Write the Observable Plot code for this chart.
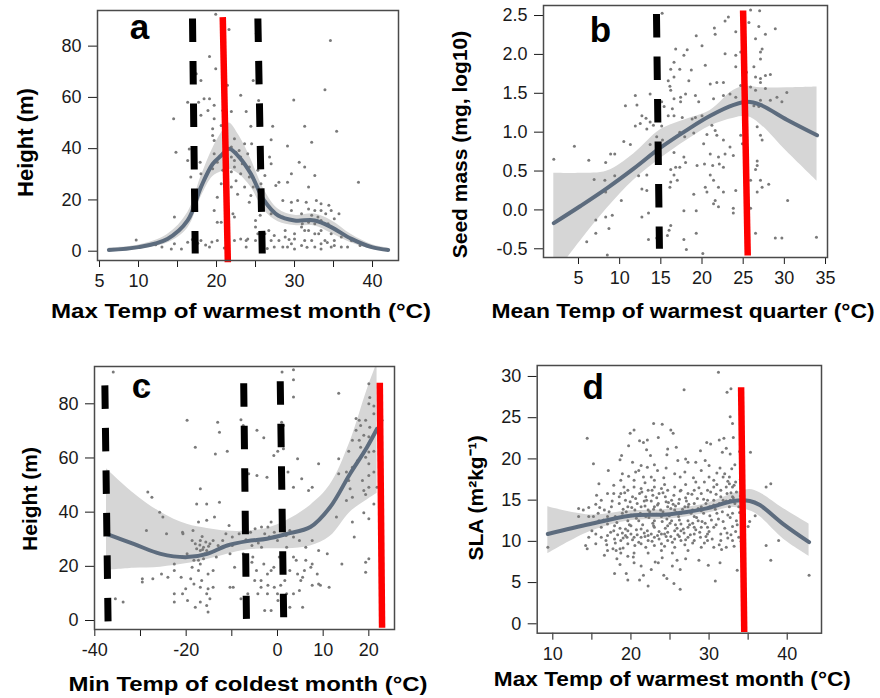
<!DOCTYPE html>
<html>
<head>
<meta charset="utf-8">
<script src="https://cdn.jsdelivr.net/npm/d3@7"></script>
<script src="https://cdn.jsdelivr.net/npm/@observablehq/plot@0.6"></script>
<style>
  html, body { margin: 0; padding: 0; background: #fff; }
  #wrap { position: relative; width: 880px; height: 698px; background: #fff; overflow: hidden; }
  #wrap > div { position: absolute; }
</style>
</head>
<body>
<div id="wrap"></div>
<script>
// ---------------- Panel a ----------------
const aXTitle = "Max Temp of warmest month (°C)";
const aYTitle = "Height (m)";
const aXTicks = [5, 10, 15, 20, 25, 30, 35, 40];
const aXLabelled = [5, 10, 20, 30, 40];
const aYTicks = [0, 20, 40, 60, 80];
const aPoints = [[19.9,92.4],[21.6,86.5],[25.1,84.8],[34.6,82.2],[19.1,76],[19.9,71.2],[17.4,69.2],[18.0,66.6],[24.7,66.6],[21.4,64.7],[33.9,63],[18.4,59.5],[19.1,59.5],[23.1,60.8],[25.4,58.8],[29.9,59],[16.3,58.1],[17.7,58.1],[19.7,56.9],[20.8,54.9],[21.9,54.5],[23.8,54.5],[18.9,54.9],[14.5,51.7],[18.0,53],[19.7,51.7],[19.5,47.8],[20.6,49],[24.4,48.7],[27.2,48.7],[31.3,48.7],[35.4,46.8],[19.5,45.1],[19.7,43.2],[22.3,43.9],[23.6,41.9],[24.5,41.9],[27.0,43.5],[29.1,41],[32.2,42.5],[14.8,38.6],[16.3,35.4],[17.9,34.7],[19.7,38],[20.1,34.7],[21.9,36.7],[22.3,32.8],[22.9,39.3],[24.0,38],[25.7,38],[26.8,36.7],[27.0,34.1],[30.6,34.7],[31.3,32.8],[29.6,30.2],[32.6,29.5],[38.2,26.9],[28.0,26.9],[29.1,26.9],[31.8,25],[16.7,28.9],[18.0,30.2],[19.5,32.2],[20.8,31.6],[21.9,31],[23.1,30.2],[24.2,28.9],[25.3,31.6],[26.2,29.5],[27.6,25.6],[24.4,21.7],[22.7,22.2],[24.2,19.1],[28.5,19.8],[29.6,19.1],[30.4,19.8],[31.5,19.1],[32.8,19.8],[33.4,18.5],[34.4,17.9],[31.8,16.5],[32.6,15.9],[33.4,15.9],[34.7,15.9],[29.6,15.9],[30.9,14.6],[32.2,14],[33.0,13.3],[34.0,14.6],[35.1,12.7],[35.7,14.6],[28.5,13.3],[27.0,14.6],[25.6,14],[25.0,12],[25.0,9.4],[26.7,8.1],[28.8,8.1],[30.0,6.8],[31.3,8.1],[32.6,6.8],[33.4,8.1],[34.7,6.8],[36.0,5.5],[37.3,4.2],[38.4,2.2],[36.8,1.6],[35.1,2.2],[33.4,2.9],[32.2,4.2],[30.9,2.2],[29.6,2.9],[28.5,1.6],[27.0,4.2],[25.7,2.9],[24.0,4.8],[23.1,4.8],[22.3,4.2],[20.1,4.2],[19.1,1.6],[18.0,4.2],[17.2,2.2],[16.3,3.5],[15.5,0.9],[14.2,0.9],[14.6,2.9],[13.0,1.6],[9.7,4.4],[14.6,13.3],[19.7,15.9],[20.1,11.3],[20.6,11.3],[22.1,14.6],[20.1,21],[25.3,6.8],[28.0,4.2],[29.1,1.6],[33.4,0.9],[34.7,1.6],[36.0,1.6],[22.3,13.3],[30.4,12],[31.0,10.7],[31.8,11.3],[32.6,10.7],[33.4,12],[34.3,10.7],[30.9,9.4],[31.8,8.1],[33.1,6.8],[30.0,4.8],[28.8,5.5],[27.4,6.1],[26.2,6.8],[25.0,4.2],[23.8,4.2],[23.8,1.6],[27.4,1.6],[30.0,0.9],[31.3,4.2],[32.6,1.6],[33.9,4.2],[35.1,4.2],[22.5,27.5],[23.6,25],[21.9,25],[20.6,26.3],[24.7,25],[25.7,26.3],[21.9,40.6],[22.5,38.6],[23.1,36.7],[23.3,34.1],[24.2,32.8],[22.3,35.4],[21.4,32.8],[17.2,34.1],[16.5,39.9],[12.2,2.5],[17.6,3.1],[18.6,2.4],[19.4,3.6],[16.9,4.6],[21.0,1.2],[26.5,1.1],[31.6,1.5],[29.3,4.6],[34.2,3.4]];
const aCurveX  = [6.2, 10.0, 13.7, 16.3, 18.0, 19.5, 20.6, 21.6, 22.9, 24.4, 26.1, 27.9, 30.0, 32.6, 34.7, 37.3, 39.9, 42.0];
const aCurveY  = [0.5, 1.6, 4.8, 12.0, 25.0, 34.0, 37.3, 40.0, 36.7, 30.2, 19.8, 13.9, 12.0, 12.0, 9.4, 4.8, 1.6, 0.5];
const aCurveHi = [1.2, 2.4, 6.5, 15.0, 29.0, 40.0, 46.0, 50.0, 45.0, 36.0, 24.0, 16.5, 14.0, 14.5, 12.0, 6.5, 2.6, 1.2];
const aCurveLo = [0.0, 0.8, 3.2, 9.0, 21.0, 29.0, 31.0, 32.0, 30.0, 25.0, 16.0, 11.5, 10.0, 9.8, 7.0, 3.2, 0.8, 0.0];
const aDashed = [{x1: 16.92, y1: 90.8, x2: 17.27, y2: -0.9}, {x1: 25.3, y1: 90.8, x2: 25.86, y2: -0.9}];
const aRed = [{x1: 20.8, y1: 91.3, x2: 21.45, y2: -4.3}];

// ---------------- Panel b ----------------
const bXTitle = "Mean Temp of warmest quarter (°C)";
const bYTitle = "Seed mass (mg, log10)";
const bXTicks = [5, 10, 15, 20, 25, 30, 35];
const bXLabelled = [5, 10, 15, 20, 25, 30, 35];
const bYTicks = [-0.5, 0, 0.5, 1, 1.5, 2, 2.5];
const bPoints = [[15.16,2.53],[25.9,2.57],[27.0,2.56],[23.2,2.48],[22.8,2.43],[24.9,2.46],[25.7,2.41],[26.9,2.36],[27.7,2.26],[28.9,2.33],[21.5,2.34],[21.6,2.26],[19.3,2.24],[24.1,2.29],[26.5,2.2],[16.8,2.07],[18.2,2.06],[20.0,2.11],[22.8,2.01],[24.1,1.99],[24.7,2.03],[27.1,2.03],[27.3,2.07],[27.1,1.94],[17.8,1.99],[16.6,1.9],[17.3,1.81],[16.2,1.81],[20.4,1.86],[18.7,1.8],[26.3,1.84],[24.1,1.84],[25.4,1.77],[26.5,1.71],[27.1,1.69],[27.7,1.73],[28.3,1.74],[18.4,1.66],[15.9,1.66],[16.6,1.71],[27.1,1.64],[21.0,1.62],[21.8,1.64],[22.6,1.64],[24.7,1.6],[25.9,1.58],[26.5,1.54],[27.7,1.56],[16.1,1.59],[16.2,1.54],[13.7,1.49],[11.9,1.47],[18.0,1.49],[19.2,1.47],[17.4,1.45],[16.6,1.43],[22.6,1.47],[23.4,1.49],[24.1,1.45],[30.3,1.51],[29.1,1.45],[27.1,1.41],[26.3,1.34],[26.9,1.33],[28.3,1.41],[29.7,1.39],[10.7,1.34],[12.1,1.35],[15.1,1.39],[15.4,1.33],[16.4,1.3],[17.4,1.39],[19.6,1.39],[21.4,1.43],[15.9,1.21],[16.6,1.21],[17.6,1.19],[19.2,1.19],[12.7,1.21],[13.2,1.18],[13.7,1.13],[12.5,1.11],[13.3,1.04],[14.1,1.09],[15.1,1.08],[11.9,1.08],[18.8,1.17],[20.0,1.21],[21.2,1.09],[21.6,1.02],[21.8,0.96],[20.6,0.97],[19.0,0.99],[17.3,1.0],[17.9,0.94],[14.5,0.94],[13.7,0.84],[15.2,0.9],[11.3,0.84],[10.5,0.88],[4.5,0.82],[26.7,1.07],[27.1,0.96],[27.3,0.9],[24.9,0.85],[22.6,0.9],[24.7,0.96],[23.4,0.81],[22.8,0.72],[23.8,0.7],[22.0,0.68],[21.0,0.72],[20.2,0.85],[16.6,0.74],[17.8,0.68],[18.0,0.61],[19.4,0.57],[20.3,0.59],[21.3,0.57],[22.1,0.59],[16.8,0.55],[17.3,0.55],[16.2,0.52],[22.6,0.55],[26.7,0.63],[26.7,0.57],[26.5,0.52],[6.25,0.64],[8.3,0.61],[2.0,0.65],[8.9,0.72],[9.4,0.72],[12.3,0.44],[13.3,0.45],[8.2,0.38],[9.4,0.44],[6.9,0.39],[16.6,0.45],[17.0,0.38],[16.2,0.36],[16.1,0.29],[21.0,0.45],[21.4,0.38],[20.4,0.29],[22.0,0.29],[20.6,0.23],[22.6,0.23],[25.9,0.38],[27.1,0.38],[27.3,0.29],[28.1,0.33],[26.7,0.23],[19.0,0.2],[21.6,0.12],[24.1,0.25],[12.7,0.27],[13.3,0.25],[10.2,0.12],[8.3,0.23],[21.4,0.08],[22.0,0.04],[23.8,0.02],[25.9,0.02],[17.8,-0.01],[19.3,-0.01],[13.5,-0.04],[12.7,-0.09],[8.3,-0.09],[7.1,-0.13],[9.1,-0.07],[23.8,-0.04],[16.2,-0.2],[16.0,-0.26],[15.8,-0.33],[8.7,-0.24],[7.1,-0.3],[6.0,-0.41],[13.5,-0.38],[14.5,-0.36],[17.8,-0.38],[18.1,-0.51],[19.3,-0.3],[26.5,-0.3],[28.9,-0.36],[29.7,-0.36],[33.9,-0.35],[30.4,0.12],[8.5,-0.58],[20.1,-0.56]];
const bCurveX  = [2.0, 5.24, 8.48, 11.7, 14.95, 18.2, 21.0, 23.85, 25.5, 27.1, 30.3, 33.97];
const bCurveY  = [-0.17, 0.05, 0.28, 0.53, 0.80, 1.03, 1.21, 1.35, 1.39, 1.35, 1.16, 0.96];
const bCurveHi = [0.47, 0.47, 0.50, 0.72, 1.03, 1.17, 1.28, 1.54, 1.59, 1.57, 1.57, 1.58];
const bCurveLo = [-0.85, -0.40, 0.02, 0.38, 0.66, 0.90, 1.08, 1.18, 1.20, 1.10, 0.75, 0.37];
const bDashed = [{x1: 14.47, y1: 2.52, x2: 14.83, y2: -0.5}];
const bRed = [{x1: 24.99, y1: 2.564, x2: 25.55, y2: -0.586}];

// ---------------- Panel c ----------------
const cXTitle = "Min Temp of coldest month (°C)";
const cYTitle = "Height (m)";
const cXTicks = [-40, -30, -20, -10, 0, 10, 20];
const cXLabelled = [-40, -20, 0, 10, 20];
const cYTicks = [0, 20, 40, 60, 80];
const cPoints = [[-35.97,91.7],[3.5,92.6],[1.0,91.7],[3.5,88.9],[-29.5,85.3],[3.5,82.5],[13.4,83.9],[-19.8,73.9],[-13.1,73.2],[-8.0,74.1],[-7.5,72],[-4.5,70.2],[-12.7,69.5],[-3.0,67.5],[0.9,73.2],[1.3,72],[-18.0,64],[-13.6,61.5],[-11.0,62.5],[-0.8,60.9],[0.05,62.5],[1.3,63.4],[4.4,59.7],[9.0,57.9],[13.4,59.7],[15.6,62.5],[20.0,62.2],[21.1,62.5],[-6.3,54.2],[-4.5,53.5],[-2.3,52.9],[0.6,54.2],[2.3,54.8],[3.5,49.2],[5.3,52.3],[6.8,48],[7.6,49.2],[13.4,54.2],[15.6,51.7],[15.9,48.6],[18.6,51.7],[20.0,53.5],[21.1,54.8],[18.9,48],[19.3,46.5],[20.0,49.2],[15.1,44.3],[16.4,45.5],[20.0,37.6],[18.9,39.8],[16.4,36.4],[12.9,38.2],[17.2,70.2],[17.9,73.9],[17.2,74.6],[18.2,72],[19.3,73.9],[18.9,68.4],[20.0,67.8],[20.2,71.3],[21.1,76.3],[20.0,80],[20.2,82.3],[21.1,79.2],[20.0,87.4],[22.9,73.9],[16.4,66.5],[17.9,66.5],[18.2,64],[20.0,65.2],[15.1,54.8],[20.0,22.8],[19.3,17.8],[19.3,21.5],[14.1,20.9],[10.9,24.6],[11.3,12.3],[9.4,13],[7.6,13],[7.3,19.7],[5.9,18.5],[5.5,16],[5.1,14.8],[4.4,17.2],[3.5,23.4],[3.5,9.9],[2.7,4.9],[5.5,4.9],[0.1,7.4],[-1.4,3.7],[-2.8,3.7],[-2.2,9.9],[-3.6,12.3],[-5.0,14.8],[-2.2,17.2],[-0.8,19.7],[-3.0,20.9],[-1.4,18.5],[-4.6,18.5],[-5.6,21.5],[-9.7,12.3],[-10.4,12.3],[-8.0,8],[-14.1,12.3],[-15.5,9.9],[-14.8,8],[-15.5,5.5],[-16.9,6.8],[-18.0,4.9],[-19.7,7.4],[-20.8,9.9],[-22.6,9.9],[-22.6,6.8],[-20.1,11.7],[-18.3,13.5],[-16.9,12.3],[-15.2,11.7],[-15.2,3.1],[-16.6,14.8],[-15.2,17.2],[-14.1,18.5],[-17.3,18.5],[-19.0,15.4],[-21.1,16],[-22.6,18.5],[-24.0,16],[-25.4,17.2],[-27.3,15.4],[-29.6,15.4],[-29.6,14.2],[-35.5,8],[-33.8,6.8],[-28.4,47.4],[-27.5,45.5],[-25.8,40],[-25.1,38.2],[-28.7,33.2],[-24.3,32],[-20.7,32],[-18.5,33.2],[-17.3,36.4],[-15.5,37],[-13.8,38.2],[-17.7,43],[-15.5,43],[-12.7,43.7],[-16.9,48.6],[-20.8,32.6],[-18.7,29.5],[-18.0,28.3],[-16.9,29.5],[-16.2,27],[-15.5,25.8],[-15.9,24.6],[-16.9,25.8],[-17.7,26.5],[-14.8,28.3],[-14.1,29.5],[-13.0,27.7],[-12.0,29.5],[-11.3,32],[-10.6,35.1],[-9.9,30.8],[-8.4,32],[-9.9,27.7],[-5.9,32.6],[-4.9,33.9],[-3.5,34.5],[-2.8,32],[-2.1,34.5],[-1.4,36.4],[-0.7,32.6],[0.0,29.5],[1.4,34.5],[2.7,33.2],[3.5,30.8],[4.8,29.5],[6.2,27],[7.6,29.5],[9.0,25.8],[2.0,27],[-3.5,27],[-5.6,27.7],[-10.4,24.6],[-13.4,23.4],[-19.8,24.6],[-18.3,22.2],[-17.3,22.2],[-16.2,22.8],[-16.9,20.9],[-22.6,20.9],[-20.8,23.4],[-18.7,19.7],[-9.4,19.7],[-7.5,24.6],[-5.4,23.4],[0.4,23.4],[1.3,19.7],[2.7,18.5],[4.1,22.2],[6.2,22.2],[7.6,20.9],[8.7,17.2],[9.0,13.5],[1.6,14.8],[0.7,13],[-0.7,12.3],[-2.1,13],[-3.6,14.8],[-4.3,9.9],[-6.5,9.9],[2.0,9.9],[0.0,9.9],[4.8,11.1],[16.4,56.6],[17.5,59],[16.8,30.8],[21.1,43],[21.8,49.2],[18.9,62.2],[19.3,60.3],[20.0,57.9],[-16.4,26.2],[-15.1,27.4],[-17.0,27.9],[-15.7,29.0],[-16.5,31.0],[-14.6,25.2],[-6.9,29.8],[-1.8,30.9],[-4.2,28.6],[1.9,31.4]];
const cCurveX  = [-37.44, -31.5, -25.6, -19.8, -15.4, -11.0, -6.65, -2.3, 2.1, 7.2, 11.5, 15.9, 19.6, 21.8];
const cCurveY  = [32.0, 28.3, 24.6, 23.4, 24.6, 27.7, 29.3, 30.2, 32.0, 34.5, 41.8, 54.2, 64.0, 70.8];
const cCurveHi = [56.0, 47.0, 40.0, 35.5, 34.0, 33.0, 33.0, 34.0, 37.0, 42.5, 50.0, 66.0, 85.0, 95.0];
const cCurveLo = [18.5, 19.3, 19.7, 21.0, 22.5, 24.5, 26.0, 26.5, 26.5, 27.5, 31.0, 40.0, 44.5, 47.0];
const cDashed = [{x1: -37.8, y1: 86.8, x2: -37.1, y2: -0.6}, {x1: -7.4, y1: 87.6, x2: -6.8, y2: 0.6}, {x1: 0.6, y1: 88.3, x2: 1.35, y2: 1.2}];
const cRed = [{x1: 22.4, y1: 87.8, x2: 22.9, y2: -2.7}];

// ---------------- Panel d ----------------
const dXTitle = "Max Temp of warmest month (°C)";
const dYTitle = "SLA (m²kg⁻¹)";
const dXTicks = [10, 15, 20, 25, 30, 35, 40];
const dXLabelled = [10, 20, 30, 40];
const dYTicks = [0, 5, 10, 15, 20, 25, 30];
const dPoints = [[31.2,30.5],[26.8,28.4],[32.3,28.1],[32.8,28.5],[14.4,22.5],[32.7,25.1],[33.0,24.3],[22.9,24.3],[24.0,24.2],[20.4,23.5],[19.9,23.1],[21.1,22.2],[21.6,22],[22.1,22.3],[23.5,22.6],[25.1,23.5],[25.4,23.1],[31.9,22.5],[31.3,22.3],[33.1,22.6],[29.7,22],[30.2,21.8],[35.3,20.8],[19.7,21.6],[24.7,21.2],[25.8,21.4],[27.0,20],[27.3,19.6],[28.3,19.6],[29.5,19.8],[18.8,20.4],[18.6,19.9],[15.2,19.4],[31.7,20.8],[32.7,20.6],[21.3,19.2],[22.1,19],[23.0,19.3],[23.4,18.6],[17.1,18.6],[18.9,18.2],[20.6,18.4],[21.6,17.8],[24.2,17.7],[26.3,17.8],[28.0,17.7],[29.4,17.2],[30.6,17.4],[31.8,17.8],[15.9,17],[17.8,16.8],[19.1,16.6],[37.9,17],[37.3,16.6],[32.6,17],[33.0,16.6],[32.3,15.8],[31.5,15.4],[30.6,15],[32.7,15],[33.0,15.4],[13.3,14],[14.6,14.1],[15.5,14.5],[15.9,12.5],[14.2,9.5],[14.4,9.1],[9.36,9.3],[15.5,9.7],[16.8,10.1],[17.7,9.1],[18.1,8.9],[18.6,9.1],[19.5,10.5],[20.4,10.5],[21.3,10.5],[22.2,10.7],[23.0,10.5],[23.9,10.9],[24.7,11.1],[25.6,11.3],[26.4,11.3],[27.3,11.7],[28.1,11.7],[17.9,6.1],[19.4,6.1],[19.6,5.3],[21.1,5.3],[21.6,5.9],[22.2,4.6],[23.1,7.5],[23.5,7.4],[24.2,5.9],[24.6,5.5],[25.5,4.9],[26.3,4.2],[25.9,7.7],[20.4,7.4],[19.6,8.2],[18.6,7.2],[22.2,8.6],[25.3,8.6],[26.3,6.6],[28.7,7.7],[30.8,5.2],[31.4,7.4],[31.6,9],[32.2,9.3],[37.3,9.5],[38.9,10.1],[37.9,7.7],[42.8,5.9],[33.6,6.5],[35.9,13.1],[35.2,12.4],[35.0,11.8],[33.0,11.8],[33.8,10.5],[33.0,10.1],[32.3,11],[31.8,12.4],[31.0,13.4],[30.1,14.2],[29.3,13.4],[28.6,12.5],[27.7,13.4],[26.9,14.2],[26.1,14.6],[25.2,15],[24.4,15.4],[23.6,15.8],[22.8,15.6],[21.9,15.4],[21.1,15.8],[20.2,15.4],[19.3,15],[18.5,14.6],[17.5,14.2],[16.6,13.8],[15.8,13.4],[15.2,13],[19.6,14.2],[20.5,13.8],[21.3,14.2],[22.2,13.8],[23.0,14.2],[23.8,13.8],[24.7,14.2],[25.6,13.8],[26.4,13.4],[27.3,14.2],[28.1,14.6],[29.0,14.2],[29.8,15],[18.9,13.4],[18.0,13],[19.6,12.5],[21.0,12.5],[21.9,13],[23.0,12.5],[23.9,13],[25.2,12.5],[26.1,13],[27.3,12.5],[28.1,13],[29.0,11.7],[29.8,11.7],[30.6,11.7],[31.5,10.1],[29.8,10.1],[28.9,10.5],[28.1,10.1],[27.3,10.5],[26.4,10.1],[25.6,10.3],[24.7,10.1],[23.9,9.7],[23.0,9.5],[22.2,10.1],[21.3,9.7],[20.5,9.5],[19.6,9.7],[18.7,10.1],[17.9,10.3],[17.0,10.7],[16.2,10.5],[17.0,12.1],[16.2,11.7],[17.0,13],[16.2,15],[17.8,15.8],[18.7,15.8],[19.6,16.2],[20.4,16.6],[21.3,16.4],[22.2,16.2],[23.0,16.6],[23.9,16.4],[24.7,16.2],[25.6,16.6],[26.4,16.2],[27.3,15.8],[28.1,16.2],[29.0,15.8],[29.8,16.2],[30.6,16.6],[31.5,16.2],[32.2,16.6],[32.6,14.2],[33.0,13.4],[33.5,12.5],[32.6,17.8],[32.0,18.2],[29.0,18.6],[25.6,18.2],[23.0,17.4],[20.4,17.4],[18.7,17.4],[17.0,15.8],[14.6,13],[13.9,13.8],[13.3,13],[15.0,11.3],[15.5,10.9],[14.6,10.5],[17.8,11.3],[19.6,11.3],[21.3,11.5],[23.0,11.7],[24.7,11.9],[26.4,12.1],[28.1,10.9],[29.8,10.9],[31.5,10.9],[30.6,9.3],[29.0,9.3],[27.3,8.9],[25.6,9.3],[23.9,8.9],[20.4,8.6],[18.7,8.6],[17.0,8.9],[25.3,7],[21.3,7],[33.5,16],[34.0,15.5],[33.8,14.2],[34.2,13],[33.2,16.8],[34.0,17.5],[33.6,12],[34.3,11.2],[18.3,10.8],[18.9,11.0],[19.3,10.7],[20.0,10.9],[20.8,10.8],[21.7,11.0],[22.6,10.9],[23.4,10.7],[24.3,10.9],[25.1,10.6],[26.0,10.8],[26.8,11.0],[27.6,10.8],[22.4,13.6],[23.3,13.3],[24.1,13.6],[24.9,13.1],[25.8,13.5],[26.6,13.9],[27.5,13.6],[22.6,14.9],[23.5,14.6],[24.5,14.8],[25.4,14.5],[26.2,15.1],[27.1,14.9],[20.8,14.6],[21.7,14.9],[19.0,13.9],[20.0,13.2],[22.8,12.2],[24.0,12.4],[25.7,12.0],[27.9,12.2],[30.3,12.6],[31.3,14.6],[32.4,13.2],[30.8,13.9],[28.5,15.2],[24.3,16.9],[21.8,17.1],[27.0,16.9],[31.0,18.3],[19.8,12.0],[16.9,9.6],[19.0,9.2],[21.9,9.3],[24.3,9.4],[26.9,9.6],[29.4,9.8],[32.8,15.9],[33.4,17.2],[32.9,18.8],[30.0,19.2],[26.0,19.8],[22.5,20.4],[20.2,19.6],[28.6,14.0],[29.6,14.6],[30.9,15.7],[18.2,12.3],[18.8,12.9],[19.4,13.6],[20.1,14.1],[20.7,12.8],[21.2,13.4],[21.8,14.3],[22.3,12.9],[22.9,13.9],[23.4,14.4],[24.0,13.2],[24.6,12.7],[25.1,14.0],[25.7,14.3],[26.2,12.6],[26.8,13.5],[27.4,14.5],[27.9,13.8],[28.4,12.9],[29.0,13.7],[29.5,12.2],[30.1,13.1],[30.6,14.4],[31.2,12.7],[31.7,13.6],[32.2,14.9],[32.7,12.9],[33.3,14.6],[33.9,13.5],[18.5,15.4],[19.2,15.9],[19.9,14.8],[20.6,15.2],[21.4,16.0],[22.0,15.0],[22.7,16.2],[23.3,15.3],[24.1,15.9],[24.8,14.7],[25.5,15.6],[26.3,16.1],[27.0,15.3],[27.8,15.7],[28.7,16.5],[29.3,15.1],[30.2,16.0],[31.0,16.9],[31.8,15.0],[32.4,17.3],[33.1,15.3],[17.4,11.1],[17.9,11.9],[18.6,11.6],[19.3,11.5],[20.0,11.9],[20.7,11.4],[21.5,12.0],[22.1,11.3],[22.9,11.9],[23.6,11.2],[24.4,11.6],[25.0,12.2],[25.9,11.6],[26.7,11.5],[27.5,12.0],[28.3,11.4],[29.1,12.4],[30.0,11.2],[30.9,12.0],[32.0,11.6],[32.8,10.8],[33.4,11.2],[18.0,9.8],[19.0,10.4],[20.2,10.2],[21.0,9.9],[21.8,10.6],[22.7,10.0],[23.6,10.3],[24.5,10.6],[25.3,9.9],[26.2,10.6],[27.0,10.2],[27.9,9.8],[28.8,11.1],[29.6,10.6],[30.4,10.3],[31.3,9.6],[32.4,10.4],[33.2,9.4],[34.1,10.0],[16.5,12.6],[17.2,13.6],[16.0,14.1],[17.6,14.9],[15.6,15.6],[19.7,17.9],[21.0,18.6],[22.6,17.8],[24.5,18.9],[26.9,18.4],[28.3,17.2],[30.0,17.8],[31.4,18.9],[33.3,19.3],[33.9,20.9],[32.2,21.3],[20.3,8.1],[22.6,6.6],[24.0,8.0],[27.0,7.9],[29.9,7.1],[18.2,7.9],[16.6,8.3],[22.0,21.1],[24.6,20.5],[28.9,21.0]];
const dCurveX  = [9.36, 14.8, 19.9, 25.0, 29.7, 33.1, 35.2, 36.5, 39.5, 42.8];
const dCurveY  = [10.9, 12.1, 13.1, 13.3, 14.0, 14.9, 14.9, 14.4, 12.1, 9.9];
const dCurveHi = [14.2, 13.2, 13.7, 13.9, 14.6, 15.8, 16.3, 15.9, 14.0, 12.1];
const dCurveLo = [8.5, 11.2, 12.5, 12.7, 13.4, 14.1, 13.7, 13.0, 10.3, 8.2];
const dDashed = [];
const dRed = [{x1: 34.1, y1: 28.7, x2: 34.5, y2: -1.0}];

// ---------------- drawing ----------------
const FONT = '"Liberation Sans", Arial, Helvetica, sans-serif';
const curveRows = (xs, ys, los, his) => xs.map((x, i) => ({x, y: ys[i], lo: los[i], hi: his[i]}));

function panel(cfg) {
  const curve = curveRows(cfg.cx, cfg.cy, cfg.clo, cfg.chi);
  const svg = Plot.plot({
    width: cfg.width, height: cfg.height,
    marginLeft: cfg.m[0], marginTop: cfg.m[1], marginRight: cfg.m[2], marginBottom: cfg.m[3],
    style: {fontFamily: FONT, fontSize: "18px", color: "#1a1a1a", background: "transparent", overflow: "visible"},
    x: {domain: cfg.xDomain, nice: false, ticks: cfg.xTicks, tickSize: 7, tickPadding: 7,
        tickFormat: d => cfg.xLabelled.includes(d) ? String(d) : "", label: null},
    y: {domain: cfg.yDomain, nice: false, ticks: cfg.yTicks, tickSize: 9, tickPadding: 7,
        tickFormat: cfg.yFmt, label: null},
    marks: [
      Plot.areaY(curve, {x: "x", y1: "lo", y2: "hi", fill: "#d6d6d6", curve: "catmull-rom", clip: true}),
      Plot.dot(cfg.points, {x: d => d[0], y: d => d[1], r: 1.5, fill: "#7a7a7a"}),
      Plot.line(curve, {x: "x", y: "y", stroke: "#5d6c7e", strokeWidth: 4, curve: "catmull-rom", clip: true}),
      Plot.link(cfg.dashed, {x1: "x1", y1: "y1", x2: "x2", y2: "y2", stroke: "#000", strokeWidth: 7, strokeDasharray: "23.5,19"}),
      Plot.link(cfg.red, {x1: "x1", y1: "y1", x2: "x2", y2: "y2", stroke: "#ff0000", strokeWidth: 6.5}),
      Plot.frame({stroke: "#4a4a4a", strokeWidth: 1.5}),
      Plot.text([cfg.letter], {frameAnchor: "top-left", dx: cfg.letterPos[0], dy: cfg.letterPos[1], fontSize: 35, fontWeight: "bold", textAnchor: "middle", lineAnchor: "middle", fill: "#000"}),
      Plot.text([cfg.xTitle], {frameAnchor: "bottom", dx: cfg.xTitlePos[0], dy: cfg.xTitlePos[1], fontSize: 20, fontWeight: "bold", textAnchor: "middle", lineAnchor: "middle", fill: "#000"}),
      Plot.text([cfg.yTitle], {frameAnchor: "left", rotate: -90, dx: cfg.yTitlePos[0], dy: cfg.yTitlePos[1], fontSize: cfg.yTitleSize, fontWeight: "bold", textAnchor: "middle", lineAnchor: "middle", fill: "#000"})
    ]
  });
  svg.querySelectorAll("text").forEach(t => {
    if (t.textContent === cfg.xTitle) { t.setAttribute("textLength", cfg.xTitleLen); t.setAttribute("lengthAdjust", "spacingAndGlyphs"); }
  });
  const holder = document.createElement("div");
  holder.style.left = cfg.left + "px";
  holder.style.top = cfg.top + "px";
  holder.appendChild(svg);
  document.getElementById("wrap").appendChild(holder);
}

const intFmt = d => String(d);

panel({left: 0, top: 0, width: 440, height: 340, m: [97, 10, 42, 80],
  xDomain: [4.74, 43.33], yDomain: [-3.63, 93.9], xTicks: aXTicks, xLabelled: aXLabelled, yTicks: aYTicks, yFmt: intFmt,
  points: aPoints, cx: aCurveX, cy: aCurveY, clo: aCurveLo, chi: aCurveHi, dashed: aDashed, red: aRed,
  letter: "a", letterPos: [42, 17],
  xTitle: aXTitle, xTitlePos: [-7, 51], xTitleLen: 380,
  yTitle: aYTitle, yTitlePos: [-72, 7], yTitleSize: 22});

panel({left: 440, top: 0, width: 440, height: 340, m: [103, 5, 53, 83],
  xDomain: [0.75, 35.24], yDomain: [-0.612, 2.629], xTicks: bXTicks, xLabelled: bXLabelled, yTicks: bYTicks, yFmt: d => d.toFixed(1),
  points: bPoints, cx: bCurveX, cy: bCurveY, clo: bCurveLo, chi: bCurveHi, dashed: bDashed, red: bRed,
  letter: "b", letterPos: [57, 25],
  xTitle: bXTitle, xTitlePos: [-2.5, 54.5], xTitleLen: 383,
  yTitle: bYTitle, yTitlePos: [-83, 13], yTitleSize: 21});

panel({left: 0, top: 340, width: 440, height: 358, m: [94, 26, 46, 69],
  xDomain: [-40.07, 25.62], yDomain: [-3.32, 93.77], xTicks: cXTicks, xLabelled: cXLabelled, yTicks: cYTicks, yFmt: intFmt,
  points: cPoints, cx: cCurveX, cy: cCurveY, clo: cCurveLo, chi: cCurveHi, dashed: cDashed, red: cRed,
  letter: "c", letterPos: [47, 20],
  xTitle: cXTitle, xTitlePos: [3.5, 55], xTitleLen: 359,
  yTitle: cYTitle, yTitlePos: [-64, 1], yTitleSize: 21});

panel({left: 440, top: 340, width: 440, height: 358, m: [96.7, 25, 59, 65.3],
  xDomain: [8.0, 44.39], yDomain: [-1.14, 31.33], xTicks: dXTicks, xLabelled: dXLabelled, yTicks: dYTicks, yFmt: intFmt,
  points: dPoints, cx: dCurveX, cy: dCurveY, clo: dCurveLo, chi: dCurveHi, dashed: dDashed, red: dRed,
  letter: "d", letterPos: [56, 22],
  xTitle: dXTitle, xTitlePos: [-7, 46], xTitleLen: 357,
  yTitle: dYTitle, yTitlePos: [-61, -1.4], yTitleSize: 21});
</script>
</body>
</html>
